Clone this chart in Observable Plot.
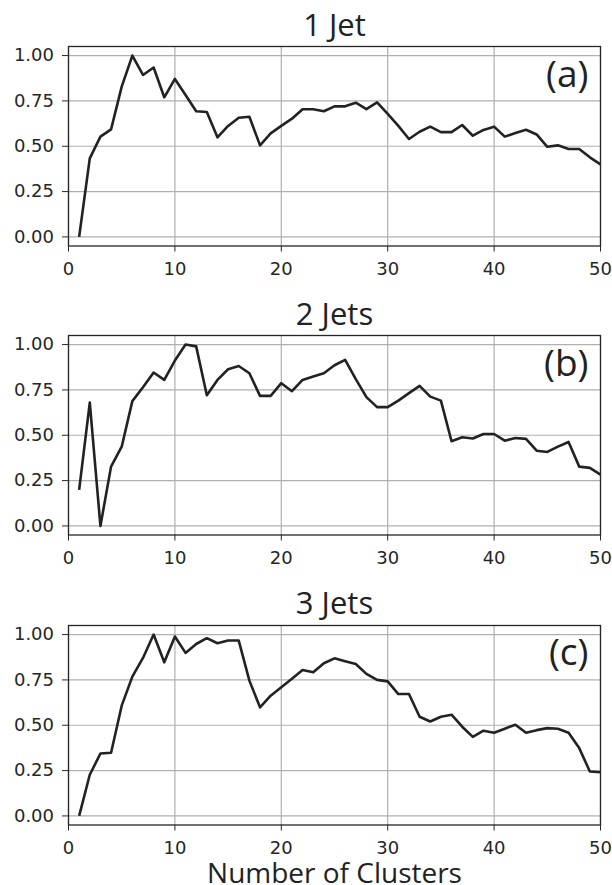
<!DOCTYPE html>
<html><head><meta charset="utf-8">
<script src="https://cdn.jsdelivr.net/npm/d3@7"></script>
<script src="https://cdn.jsdelivr.net/npm/@observablehq/plot@0.6"></script>
<style>
html,body{margin:0;padding:0;background:#fff;}
#chart{position:relative;width:612px;height:885px;overflow:hidden;background:#fff;}
#chart svg{position:absolute;left:0;}
</style></head><body><div id="chart"></div>
<script>
const clusters = [1,2,3,4,5,6,7,8,9,10,11,12,13,14,15,16,17,18,19,20,21,22,23,24,25,26,27,28,29,30,31,32,33,34,35,36,37,38,39,40,41,42,43,44,45,46,47,48,49,50];
const jet1 = [0.00,0.433,0.553,0.593,0.829,1.00,0.893,0.934,0.770,0.871,0.783,0.693,0.689,0.549,0.612,0.657,0.663,0.505,0.571,0.612,0.652,0.704,0.704,0.693,0.720,0.720,0.740,0.705,0.742,0.678,0.612,0.540,0.580,0.608,0.578,0.578,0.617,0.558,0.590,0.608,0.553,0.573,0.591,0.565,0.497,0.505,0.485,0.485,0.439,0.400];
const jet2 = [0.199,0.680,0.00,0.327,0.437,0.688,0.765,0.846,0.805,0.912,1.00,0.990,0.721,0.805,0.864,0.882,0.842,0.717,0.717,0.787,0.743,0.805,0.824,0.842,0.886,0.916,0.809,0.710,0.655,0.655,0.691,0.732,0.772,0.713,0.691,0.467,0.489,0.482,0.507,0.507,0.470,0.485,0.480,0.415,0.408,0.437,0.463,0.327,0.320,0.283];
const jet3 = [0.00,0.227,0.344,0.348,0.608,0.768,0.871,1.00,0.847,0.989,0.899,0.948,0.980,0.952,0.967,0.967,0.746,0.599,0.663,0.709,0.757,0.805,0.792,0.842,0.869,0.853,0.838,0.783,0.750,0.742,0.672,0.672,0.547,0.521,0.547,0.558,0.492,0.436,0.470,0.459,0.481,0.503,0.459,0.473,0.484,0.481,0.459,0.374,0.245,0.241];
const series = [jet1, jet2, jet3];
const titles = ["1 Jet", "2 Jets", "3 Jets"];
const panelLabels = ["(a)", "(b)", "(c)"];
const xTicks = [0, 10, 20, 30, 40, 50];
const yTicks = [0, 0.25, 0.5, 0.75, 1];
const xLabel = "Number of Clusters";

const frameTops = [46, 335.3, 624.7];
const plotH = 199.5;
const mTop = 46;
const chart = document.getElementById("chart");

series.forEach((vals, i) => {
  const top = frameTops[i] - mTop;
  const last = i === series.length - 1;
  const mBottom = last ? 885 - top - mTop - plotH : 44;
  const data = clusters.map((c, j) => ({c, v: vals[j]}));
  const marks = [
    Plot.ruleY(yTicks, {y: d => d, stroke: "#b0b0b0", strokeWidth: 1.2}),
    Plot.ruleX(xTicks, {x: d => d, stroke: "#b0b0b0", strokeWidth: 1.2}),
    Plot.line(data, {x: "c", y: "v", stroke: "#222", strokeWidth: 2.6, strokeLinejoin: "round", strokeLinecap: "butt"}),
    Plot.frame({stroke: "#262626", strokeWidth: 1.3}),
    Plot.text([titles[i]], {text: d => d, frameAnchor: "top", lineAnchor: "bottom", dy: -11, fontSize: 31, fontFamily: "Open Sans", fill: "#222"}),
    Plot.text([panelLabels[i]], {text: d => d, frameAnchor: "top-right", textAnchor: "end", lineAnchor: "bottom", dx: -12, dy: 40, fontSize: 37, fontFamily: "Open Sans", fill: "#222"})
  ];
  if (last) {
    marks.push(Plot.text([xLabel], {text: d => d, frameAnchor: "bottom", lineAnchor: "bottom", dy: 58, fontSize: 28, fontFamily: "Open Sans", fill: "#222"}));
  }
  const svg = Plot.plot({
    width: 612,
    height: mTop + plotH + mBottom,
    marginTop: mTop,
    marginBottom: mBottom,
    marginLeft: 68,
    marginRight: 12,
    style: {fontFamily: "DejaVu Sans", fontSize: "18px", color: "#262626", background: "transparent", overflow: "visible"},
    x: {domain: [0, 50], ticks: xTicks, tickSize: 6, tickPadding: 10, label: null, tickFormat: d => String(d)},
    y: {domain: [-0.05, 1.05], ticks: yTicks, tickSize: 6, tickPadding: 8.5, label: null, tickFormat: d3.format(".2f")},
    marks
  });
  svg.style.top = top + "px";
  chart.appendChild(svg);
});
</script>
</body></html>
